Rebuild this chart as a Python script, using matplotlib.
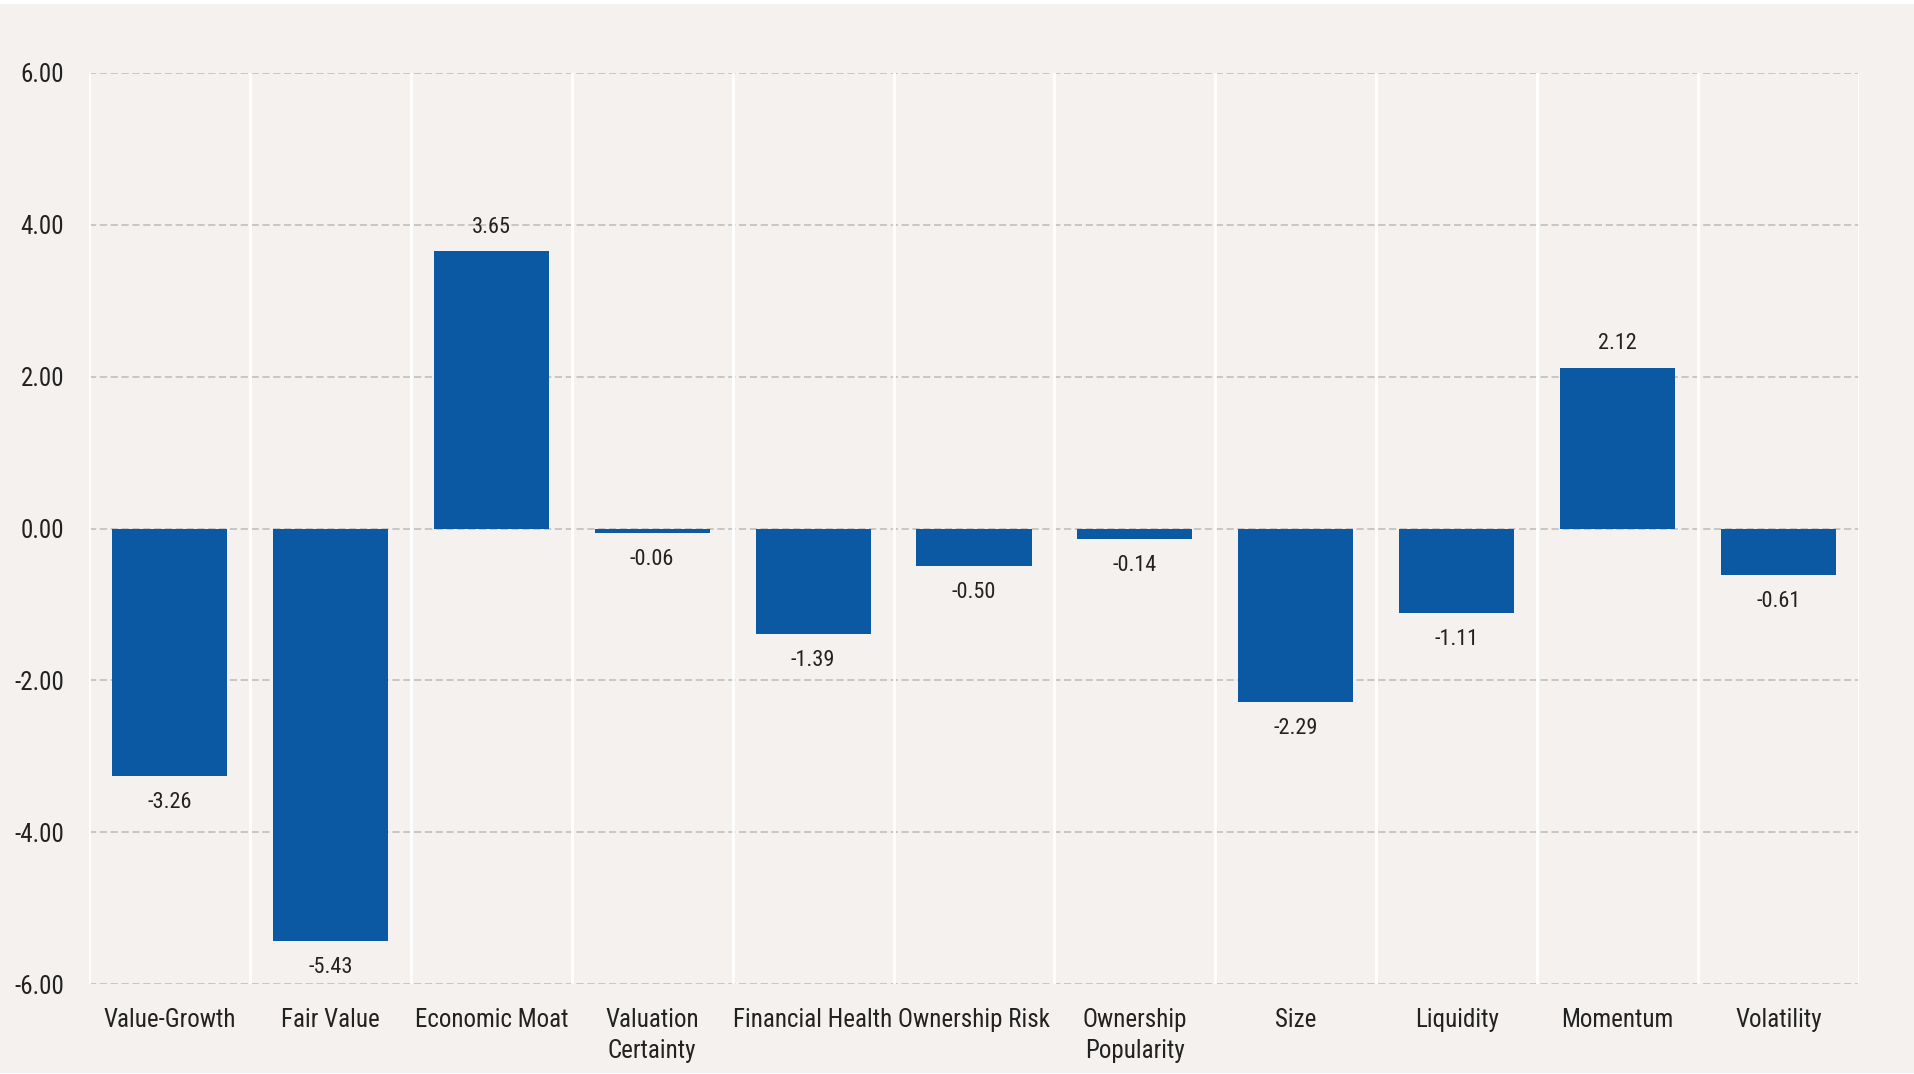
import matplotlib
matplotlib.use("Agg")
import matplotlib.pyplot as plt
from matplotlib.patches import Rectangle
import numpy as np

# data
categories = ["Value-Growth", "Fair Value", "Economic Moat", "Valuation\nCertainty",
              "Financial Health", "Ownership Risk", "Ownership\nPopularity", "Size",
              "Liquidity", "Momentum", "Volatility"]
values = [-3.26, -5.43, 3.65, -0.06, -1.39, -0.50, -0.14, -2.29, -1.11, 2.12, -0.61]
yticks = [-6, -4, -2, 0, 2, 4, 6]

bg = "#f4f1ee"
bar_color = "#0b58a3"

plt.rcParams['font.family'] = ['Roboto Condensed', 'DejaVu Sans']
plt.rcParams['axes.unicode_minus'] = False

fig = plt.figure(figsize=(19.15, 10.74), dpi=100)
fig.patch.set_facecolor("white")
fig.add_artist(Rectangle((0, 1/1074), 1, 1 - 5/1074, transform=fig.transFigure,
                         facecolor=bg, edgecolor="none", zorder=0))

ax = fig.add_axes([89/1915, 90/1074, (1859-89)/1915, (984-73)/1074])
ax.set_facecolor(bg)

x = np.arange(len(categories))
ax.bar(x, values, width=0.715, color=bar_color, zorder=3)

for xi, v in zip(x, values):
    off = 17 if v >= 0 else -19
    ax.annotate("%.2f" % v, (xi, v), xytext=(0, off), textcoords="offset points",
                ha="center", va="center", fontsize=16, color="#222222")

# grid
for t in yticks:
    ax.axhline(t, color="#c3c3c3", lw=1.3, ls=(0, (4, 2)), zorder=1)
for b in np.arange(-0.5, len(categories), 1.0):
    ax.axvline(b, color="white", lw=2, zorder=2)

ax.set_xlim(-0.5, len(categories) - 0.5)
ax.set_ylim(-6, 6)
ax.set_yticks(yticks)
ax.set_yticklabels(["%.2f" % t for t in yticks])
ax.set_xticks(x)
ax.set_xticklabels(categories, linespacing=1.4)
ax.tick_params(axis="y", length=0, pad=18, labelsize=18, labelcolor="#222222")
ax.tick_params(axis="x", length=0, pad=17, labelsize=18, labelcolor="#222222")
for s in ax.spines.values():
    s.set_visible(False)

fig.savefig("out.png", dpi=100, facecolor=fig.get_facecolor())
